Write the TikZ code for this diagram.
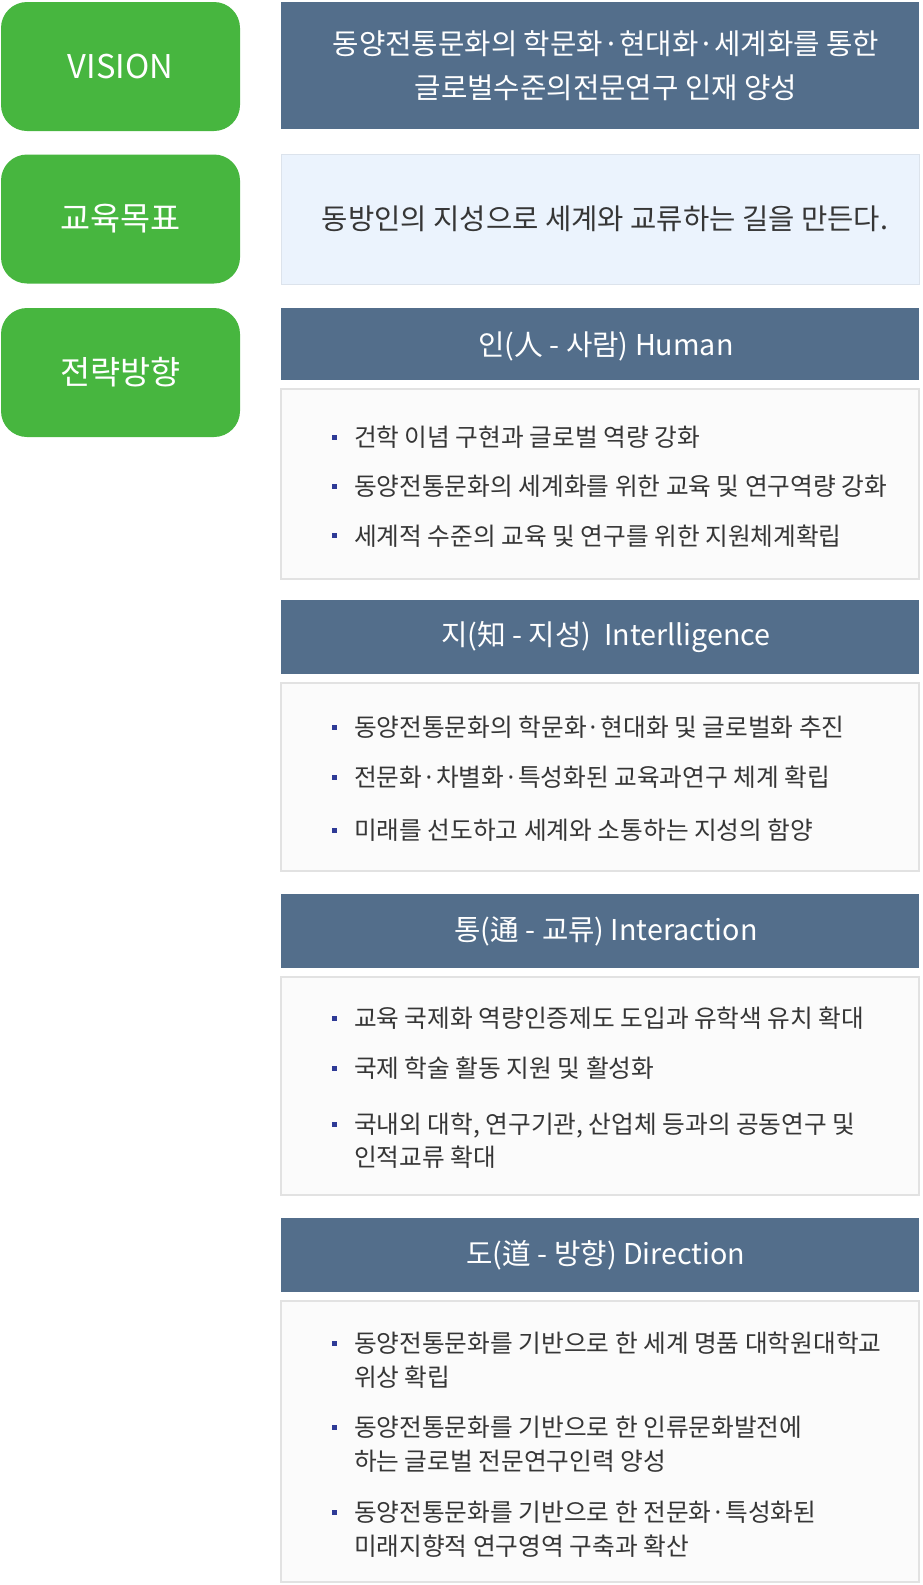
\documentclass[tikz,border=0pt]{standalone}
\usepackage{fontspec}
\setmainfont{Noto Sans CJK KR}
\definecolor{grn}{HTML}{47B63F}
\definecolor{hdr}{HTML}{536E8B}
\definecolor{goalf}{HTML}{EBF3FD}
\definecolor{goalb}{HTML}{DCE3EC}
\definecolor{bodyf}{HTML}{FBFBFB}
\definecolor{bodyb}{HTML}{E2E2E2}
\definecolor{txt}{HTML}{363636}
\definecolor{bul}{HTML}{2E3A96}
\newcommand\grnfont{\fontsize{32.7}{38}\selectfont}
\newcommand\hdrfont{\fontsize{28.7}{43.5}\selectfont}
\newcommand\goalfont{\fontsize{28.6}{34}\selectfont}
\newcommand\bulfont{\fontsize{24.7}{30}\selectfont}
\tikzset{
  grnbox/.style={fill=grn, rounded corners=26pt, minimum width=239, minimum height=129, inner sep=0, outer sep=0, text=white, font=\grnfont},
  hdrbox/.style={fill=hdr, minimum width=638, inner sep=0, outer sep=0},
  hdrtext/.style={inner sep=0, outer sep=0, text=white, font=\hdrfont, align=center, xshift=6pt},
  goalbox/.style={fill=goalf, draw=goalb, line width=1pt, minimum width=638, minimum height=130, inner sep=0, outer sep=0},
  goaltext/.style={inner sep=0, outer sep=0, text=txt, font=\goalfont, xshift=5pt},
  bodybox/.style={fill=bodyf, draw=bodyb, line width=1.2pt, minimum width=638, inner sep=0, outer sep=0},
  btext/.style={anchor=base west, inner sep=0, outer sep=0, text=txt, font=\bulfont},
  bsq/.style={fill=bul, minimum size=5, inner sep=0, outer sep=0}
}
\begin{document}
\begin{tikzpicture}[x=1pt,y=-1pt]
\useasboundingbox (0,0) rectangle (922,1585);
% left green labels
\node[grnbox] (gv) at (120.5,66.5) {VISION};
\node[grnbox] (gg) at (120.5,219) {교육목표};
\node[grnbox] (gs) at (120.5,372.5) {전략방향};
% vision and goal
\node[hdrbox, minimum height=127] (vis) at (600,65.5) {};
\node[hdrtext] (vist) at (vis.center) {동양전통문화의 학문화·현대화·세계화를 통한\\글로벌수준의전문연구 인재 양성};
\node[goalbox] (goal) at (600,219) {};
\node[goaltext] (goalt) at (goal.center) {동방인의 지성으로 세계와 교류하는 길을 만든다.};
% Human
\node[hdrbox, minimum height=72] (h1) at (600,344) {};
\node[hdrtext] (h1t) at ([yshift=-2pt]h1.center) {인(人 - 사람) Human};
\node[bodybox, minimum height=190] (b1) at (600,484) {};
\node[bsq] (s11) at (334,437) {};
\node[btext] (t11) at (354,446.2) {건학 이념 구현과 글로벌 역량 강화};
\node[bsq] (s12) at (334,486.3) {};
\node[btext] (t12) at (354,495.5) {동양전통문화의 세계화를 위한 교육 및 연구역량 강화};
\node[bsq] (s13) at (334,535.8) {};
\node[btext] (t13) at (354,545) {세계적 수준의 교육 및 연구를 위한 지원체계확립};
% Intelligence
\node[hdrbox, minimum height=74] (h2) at (600,637) {};
\node[hdrtext] (h2t) at (h2.center) {지(知 - 지성)\ \ Interlligence};
\node[bodybox, minimum height=188] (b2) at (600,777) {};
\node[bsq] (s21) at (334,727) {};
\node[btext] (t21) at (354,736.2) {동양전통문화의 학문화·현대화 및 글로벌화 추진};
\node[bsq] (s22) at (334,777.5) {};
\node[btext] (t22) at (354,786.7) {전문화·차별화·특성화된 교육과연구 체계 확립};
\node[bsq] (s23) at (334,830) {};
\node[btext] (t23) at (354,839.2) {미래를 선도하고 세계와 소통하는 지성의 함양};
% Interaction
\node[hdrbox, minimum height=74] (h3) at (600,931) {};
\node[hdrtext] (h3t) at (h3.center) {통(通 - 교류) Interaction};
\node[bodybox, minimum height=218] (b3) at (600,1086) {};
\node[bsq] (s31) at (334,1018) {};
\node[btext] (t31) at (354,1027.2) {교육 국제화 역량인증제도 도입과 유학색 유치 확대};
\node[bsq] (s32) at (334,1068.6) {};
\node[btext] (t32) at (354,1077.8) {국제 학술 활동 지원 및 활성화};
\node[bsq] (s33) at (334,1124.2) {};
\node[btext] (t33) at (354,1133.4) {국내외 대학, 연구기관, 산업체 등과의 공동연구 및};
\node[btext] (t33b) at (354,1166.8) {인적교류 확대};
% Direction
\node[hdrbox, minimum height=74] (h4) at (600,1255) {};
\node[hdrtext] (h4t) at (h4.center) {도(道 - 방향) Direction};
\node[bodybox, minimum height=281] (b4) at (600,1441.5) {};
\node[bsq] (s41) at (334,1343.6) {};
\node[btext] (t41) at (354,1352.8) {동양전통문화를 기반으로 한 세계 명품 대학원대학교};
\node[btext] (t41b) at (354,1386.2) {위상 확립};
\node[bsq] (s42) at (334,1427.5) {};
\node[btext] (t42) at (354,1436.7) {동양전통문화를 기반으로 한 인류문화발전에};
\node[btext] (t42b) at (354,1470.2) {하는 글로벌 전문연구인력 양성};
\node[bsq] (s43) at (334,1512.5) {};
\node[btext] (t43) at (354,1521.7) {동양전통문화를 기반으로 한 전문화·특성화된};
\node[btext] (t43b) at (354,1555) {미래지향적 연구영역 구축과 확산};
\end{tikzpicture}
\end{document}
